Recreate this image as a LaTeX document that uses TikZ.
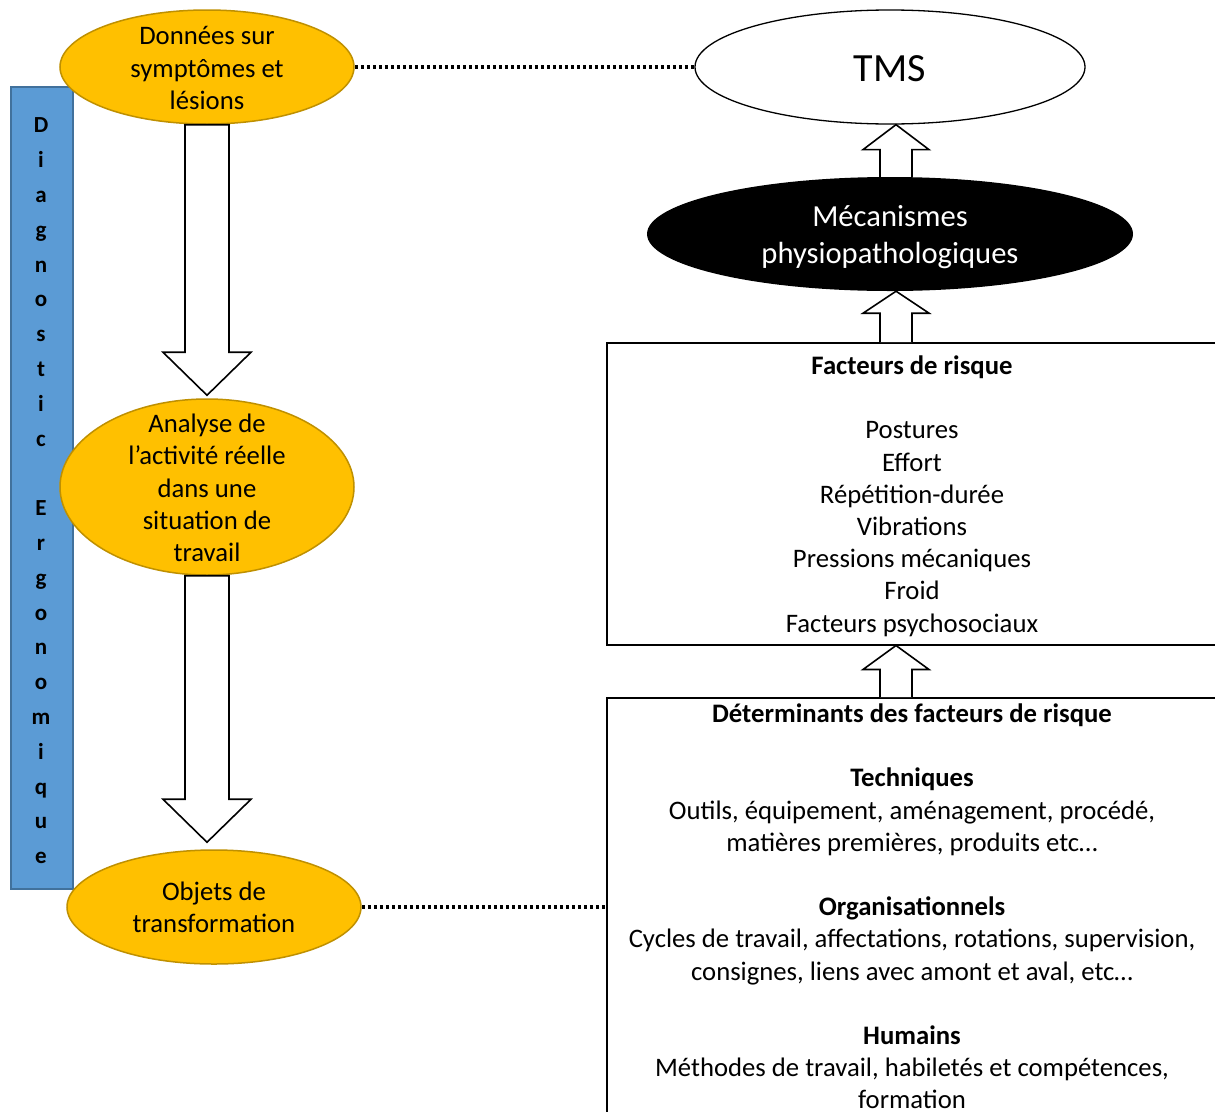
\documentclass[tikz,border=0pt]{standalone}
\usepackage{fontspec}
\setmainfont{Carlito}
\usetikzlibrary{shapes.geometric,calc}
\definecolor{orng}{HTML}{FFC000}
\definecolor{orngb}{HTML}{BF9000}
\definecolor{blu}{HTML}{5B9BD5}
\definecolor{blub}{HTML}{41719C}
\begin{document}
\begin{tikzpicture}[x=1pt,y=-1pt,
  oval/.style={ellipse, draw=orngb, fill=orng, line width=1.5pt, inner sep=0pt},
  body/.style={font=\fontsize{26.7}{32.2}\selectfont, align=center, inner sep=0pt},
  barrow/.style={draw=black, fill=white, line width=1.6pt, line join=miter},
  dotline/.style={line width=3.2pt, dash pattern=on 3pt off 3pt},
  box/.style={draw=black, line width=1.5pt, fill=white, inner sep=0pt, anchor=north west}]
\useasboundingbox (0,0) rectangle (1215,1111);
\clip (0,0) rectangle (1215,1111);
\fill[white] (0,0) rectangle (1215,1111);
\coordinate (ax) at (896,0);
% left column
\node[draw=blub, fill=blu, line width=1.5pt, minimum width=62pt, minimum height=802pt, inner sep=0pt, anchor=north west] (diag) at (10,86) {};
\node[font=\bfseries\fontsize{23}{34.8}\selectfont, align=center, inner sep=0pt] (diagt) at (41,491)
  {D\\i\\a\\g\\n\\o\\s\\t\\i\\c\\[34.8pt]E\\r\\g\\o\\n\\o\\m\\i\\q\\u\\e};
\node[oval, minimum width=294pt, minimum height=114pt,
  label={[body, yshift=-1pt]center:{Données sur\\symptômes et\\lésions}}] (d1) at (207,67) {};
\node[oval, minimum width=294pt, minimum height=176pt,
  label={[body, yshift=-1pt]center:{Analyse de\\l’activité réelle\\dans une\\situation de\\travail}}] (d2) at (207,487) {};
\node[oval, minimum width=294pt, minimum height=114pt,
  label={[body]center:{Objets de\\transformation}}] (d3) at (214,907) {};
\draw[barrow] let \p1=(d1.south), \p2=(d2.north) in
  (\x1-22pt,\y1) -- (\x1-22pt,\y2+46pt) -- (\x1-44pt,\y2+46pt) -- (\x1,\y2+3pt)
  -- (\x1+44pt,\y2+46pt) -- (\x1+22pt,\y2+46pt) -- (\x1+22pt,\y1) -- cycle;
\draw[barrow] let \p1=(d2.south), \p2=(d3.north) in
  (\x1-22pt,\y1) -- (\x1-22pt,\y2+50pt) -- (\x1-44pt,\y2+50pt) -- (\x1,\y2+7pt)
  -- (\x1+44pt,\y2+50pt) -- (\x1+22pt,\y2+50pt) -- (\x1+22pt,\y1) -- cycle;
% right column
\node[ellipse, draw=black, fill=white, line width=1.3pt, inner sep=0pt, minimum width=390pt, minimum height=114pt,
  label={[font=\fontsize{40}{48}\selectfont, inner sep=0pt, yshift=-2pt]center:TMS}] (tms) at (890,67) {};
\node[box, minimum width=612pt, minimum height=302pt] (fr) at (606,342) {};
\node[box, minimum width=612pt, minimum height=500pt] (dfr) at (606,697) {};
\node[ellipse, fill=black, inner sep=0pt, minimum width=486pt, minimum height=114pt,
  label={[text=white, font=\fontsize{30.6}{37}\selectfont, align=center, inner sep=0pt, yshift=-3pt]center:{Mécanismes\\physiopathologiques}}] (mech) at (890,234) {};
\draw[barrow] let \p1=(mech.north -| ax), \p2=(tms.south -| ax) in
  (\x1-16pt,\y1) -- (\x1-16pt,\y2-25pt) -- (\x1-33pt,\y2-25pt) -- (\x1,\y2)
  -- (\x1+33pt,\y2-25pt) -- (\x1+16pt,\y2-25pt) -- (\x1+16pt,\y1);
\draw[barrow] let \p1=(fr.north -| ax), \p2=(mech.south -| ax) in
  (\x1-16pt,\y1) -- (\x1-16pt,\y2-22pt) -- (\x1-33pt,\y2-22pt) -- (\x1,\y2)
  -- (\x1+33pt,\y2-22pt) -- (\x1+16pt,\y2-22pt) -- (\x1+16pt,\y1);
\draw[barrow] let \p1=(dfr.north -| ax), \p2=(fr.south -| ax) in
  (\x1-16pt,\y1) -- (\x1-16pt,\y2-24pt) -- (\x1-33pt,\y2-24pt) -- (\x1,\y2)
  -- (\x1+33pt,\y2-24pt) -- (\x1+16pt,\y2-24pt) -- (\x1+16pt,\y1);
\node[body, anchor=north] (frt) at (912,355.5)
  {\textbf{Facteurs de risque}\\[32.2pt]Postures\\Effort\\Répétition-durée\\Vibrations\\Pressions mécaniques\\Froid\\Facteurs psychosociaux};
\node[body, anchor=north] (dfrt) at (912,703.5)
  {\textbf{Déterminants des facteurs de risque}\\[32.2pt]
   \textbf{Techniques}\\
   Outils, équipement, aménagement, procédé,\\
   matières premières, produits etc…\\[32.2pt]
   \textbf{Organisationnels}\\
   Cycles de travail, affectations, rotations, supervision,\\
   consignes, liens avec amont et aval, etc…\\[32.2pt]
   \textbf{Humains}\\
   Méthodes de travail, habiletés et compétences,\\
   formation};
% dotted links
\draw[dotline] (d1.east) -- (tms.west);
\draw[dotline] (d3.east) -- (d3.east -| dfr.west);
\end{tikzpicture}
\end{document}
